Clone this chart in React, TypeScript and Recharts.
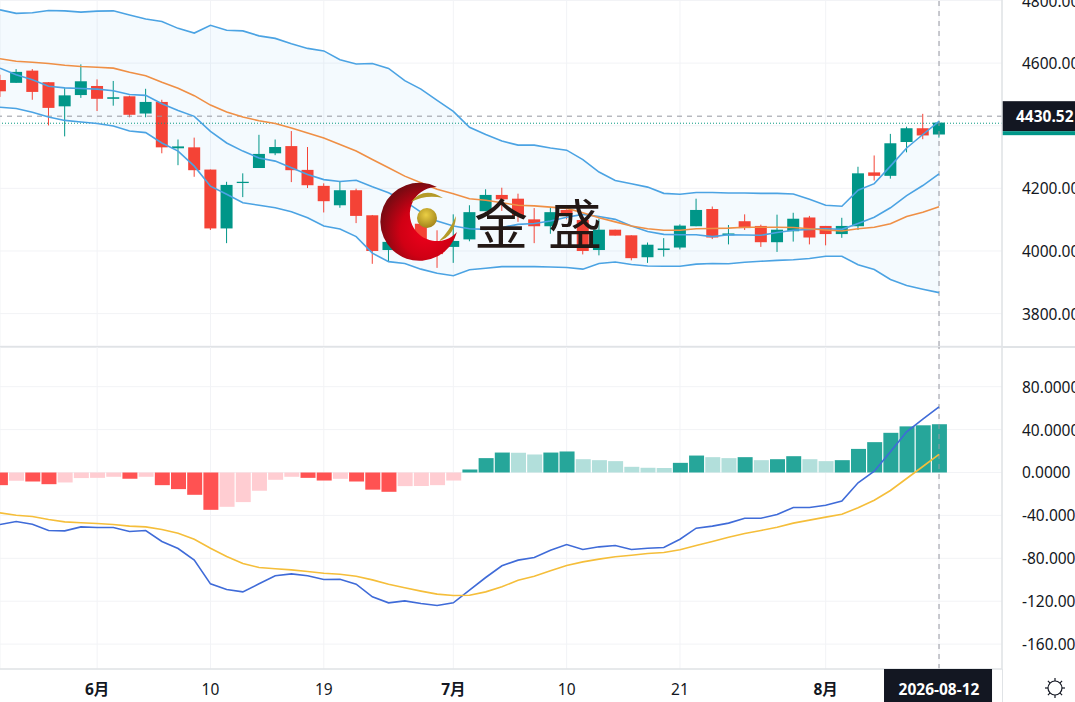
import { Area, Bar, CartesianGrid, Cell, ComposedChart, Line, ReferenceLine, XAxis, YAxis } from 'recharts';

const openPrices = [4546, 4537, 4576, 4539, 4462, 4498, 4527, 4486, 4494, 4439, 4476, 4328, 4331, 4260, 4072, 4217, 4265, 4312, 4335, 4259, 4208, 4146, 4194, 4114, 4003, 4027, 4087, 4027, 4013, 4037, 4127, 4179, 4167, 4101, 4079, 4131, 4099, 4003, 4068, 4050, 3980, 4003, 4011, 4079, 4134, 4050, 4095, 4080, 4028, 4063, 4107, 4080, 4054, 4079, 4251, 4240, 4348, 4392, 4372];
const closePrices = [4510, 4572, 4508, 4457, 4497, 4542, 4486, 4491, 4435, 4476, 4331, 4334, 4258, 4072, 4211, 4221, 4310, 4332, 4258, 4210, 4159, 4194, 4112, 4000, 4029, 4090, 4027, 3990, 4032, 4124, 4179, 4165, 4112, 4079, 4124, 4119, 4000, 4068, 4049, 3977, 4020, 4008, 4081, 4131, 4043, 4056, 4073, 4028, 4068, 4103, 4043, 4054, 4080, 4248, 4240, 4344, 4392, 4369, 4410];
const highPrices = [4563, 4581, 4581, 4539, 4520, 4596, 4548, 4543, 4496, 4518, 4483, 4356, 4362, 4260, 4221, 4248, 4371, 4356, 4383, 4332, 4216, 4222, 4199, 4115, 4059, 4112, 4101, 4066, 4117, 4146, 4197, 4202, 4183, 4137, 4138, 4133, 4099, 4103, 4068, 4050, 4027, 4041, 4085, 4167, 4142, 4083, 4117, 4084, 4116, 4122, 4112, 4080, 4106, 4269, 4305, 4374, 4397, 4438, 4416];
const lowPrices = [4492, 4537, 4483, 4401, 4366, 4489, 4447, 4464, 4427, 4427, 4312, 4274, 4237, 4067, 4025, 4172, 4265, 4306, 4220, 4201, 4123, 4138, 4089, 3959, 3965, 4011, 4011, 3946, 3962, 4031, 4127, 4128, 4093, 4025, 4055, 4101, 3989, 3986, 4049, 3970, 3962, 3982, 4005, 4079, 4038, 4021, 4067, 4013, 3997, 4030, 4021, 4018, 4042, 4067, 4225, 4231, 4315, 4357, 4362];

const upperBand = [4770, 4759, 4761, 4768, 4767, 4763, 4766, 4767, 4754, 4741, 4733, 4711, 4696, 4721, 4705, 4703, 4687, 4679, 4662, 4647, 4639, 4611, 4597, 4599, 4583, 4544, 4517, 4481, 4446, 4395, 4372, 4351, 4338, 4338, 4329, 4322, 4292, 4252, 4225, 4215, 4204, 4184, 4181, 4187, 4187, 4185, 4185, 4184, 4184, 4182, 4165, 4146, 4143, 4194, 4215, 4271, 4329, 4372, 4414];
const midBand = [4584, 4563, 4547, 4526, 4521, 4519, 4517, 4512, 4500, 4497, 4470, 4449, 4430, 4382, 4345, 4319, 4297, 4287, 4266, 4244, 4228, 4222, 4226, 4205, 4186, 4159, 4124, 4096, 4080, 4071, 4069, 4075, 4085, 4088, 4096, 4108, 4117, 4110, 4101, 4080, 4062, 4053, 4052, 4052, 4046, 4052, 4051, 4050, 4059, 4066, 4069, 4071, 4069, 4088, 4108, 4138, 4177, 4209, 4246];
const lowerBand = [4459, 4455, 4443, 4428, 4417, 4412, 4407, 4399, 4383, 4378, 4345, 4319, 4271, 4207, 4181, 4154, 4146, 4138, 4125, 4106, 4080, 4070, 4046, 3993, 3966, 3960, 3942, 3929, 3921, 3940, 3945, 3950, 3950, 3950, 3949, 3947, 3942, 3960, 3965, 3957, 3952, 3951, 3951, 3958, 3960, 3959, 3964, 3967, 3970, 3972, 3976, 3983, 3983, 3956, 3941, 3909, 3890, 3878, 3867];
const maLine = [4614, 4606, 4603, 4599, 4593, 4589, 4587, 4584, 4571, 4560, 4539, 4520, 4496, 4466, 4444, 4428, 4416, 4407, 4393, 4377, 4361, 4340, 4319, 4292, 4266, 4239, 4218, 4197, 4183, 4167, 4162, 4154, 4146, 4144, 4140, 4136, 4122, 4106, 4093, 4080, 4071, 4066, 4066, 4071, 4072, 4073, 4076, 4076, 4076, 4075, 4071, 4067, 4064, 4071, 4076, 4087, 4110, 4124, 4141];

const difLine = [-48.5, -45.7, -48.2, -54.1, -54.4, -50.7, -51.3, -51.3, -55, -54.1, -64.3, -70.9, -81.7, -103.8, -109.1, -111.3, -103.8, -96.3, -94.5, -96.3, -99.8, -99.5, -104.1, -115.9, -121.5, -119.7, -122.1, -124, -121.5, -109.7, -97.9, -87, -81.7, -79.3, -72.4, -67.1, -71.8, -69.3, -68.1, -71.8, -70.6, -69.9, -62.2, -51.9, -50, -47.2, -42.6, -42.6, -39.2, -32.6, -32.6, -30.5, -26.7, -9.6, 1.2, 19.3, 37.9, 49.7, 61.2];
const deaLine = [-37.6, -39.8, -41, -43.8, -46, -46.9, -47.6, -48.5, -50, -50.7, -53.1, -56.6, -62.2, -70.6, -78.3, -84.8, -88.6, -89.8, -90.8, -92.3, -93.9, -94.8, -96.7, -100.1, -104.1, -107.5, -110.6, -113.4, -114.7, -114.4, -111.3, -106.6, -100.4, -96.7, -91.7, -86.7, -83.3, -80.8, -78.6, -77.1, -75.5, -74.6, -72.1, -68.1, -64.3, -60.3, -56.9, -54.1, -51, -47.2, -44.4, -41.6, -38.9, -32.9, -25.8, -16.8, -5.6, 5.6, 16.8];
const histogram = [-11.8, -7.8, -8.4, -10.9, -9.3, -5.2, -5, -4, -5.9, -4, -11.8, -15.5, -20.8, -34.8, -32, -27.6, -17, -6.8, -4, -5, -7.5, -5.9, -8.4, -16, -18, -12.7, -12.6, -11.8, -7.5, 2.8, 13.4, 18.6, 18.4, 16.8, 18.6, 19.6, 12.4, 11.5, 10.6, 5.3, 4.4, 4.2, 9, 15.8, 14.3, 13.4, 14.3, 11.5, 12.4, 15.2, 12.4, 10.6, 11.5, 22, 28.3, 37, 43, 44, 45];

const priceTicks = [4800, 4600, 4400, 4200, 4000, 3800];
const macdTicks = [80, 40, 0, -40, -80, -120, -160];
const dateTicks = [6, 13, 20, 28, 35, 42, 51, 58];
const dateLabels = ['6月', '10', '19', '7月', '10', '21', '8月', '2026-08-12'];

const lastPrice = 4430.52;
const bidPrice = 4408;

const priceRows = openPrices.map((open, i) => ({
  idx: i,
  open,
  close: closePrices[i],
  range: [lowPrices[i], highPrices[i]],
  band: [lowerBand[i], upperBand[i]],
  upper: upperBand[i],
  mid: midBand[i],
  lower: lowerBand[i],
  ma: maLine[i],
}));

const macdRows = histogram.map((hist, i) => ({ idx: i, hist, dif: difLine[i], dea: deaLine[i] }));

const TEXT = '#131722';
const BORDER = '#E0E3E6';
const GRID = '#F2F3F6';
const FONT = '"Noto Sans", "Noto Sans CJK SC", sans-serif';
const X_MAX = 61.89;

const histColor = (i: number) => {
  const v = histogram[i];
  const rising = i === 0 ? false : v > histogram[i - 1];
  if (v < 0) return rising ? '#FFCDD2' : '#FF5252';
  return rising ? '#26A69A' : '#B2DFDB';
};

const Candle = (props: any) => {
  const { x, y, width, height, payload } = props;
  const [low, high] = payload.range;
  const perUnit = height / (high - low);
  const up = payload.close >= payload.open;
  const color = up ? '#009688' : '#F44336';
  const top = y + (high - Math.max(payload.open, payload.close)) * perUnit;
  const bottom = y + (high - Math.min(payload.open, payload.close)) * perUnit;
  const cx = x + width / 2;
  return (
    <g>
      <line x1={cx} x2={cx} y1={y} y2={y + height} stroke={color} strokeWidth={1} />
      <rect x={x} y={top} width={width} height={Math.max(bottom - top, 1)} fill={color} />
    </g>
  );
};

const PriceTick = (props: any) => {
  const { x, y, payload } = props;
  // the 4400 label sits behind the last price box
  if (payload.value === 4400) return null;
  return (
    <text x={x} y={y} dy={6} fontSize={15.5} fontFamily={FONT} fill={TEXT}>
      {payload.value.toFixed(2)}
    </text>
  );
};

const MacdTick = (props: any) => {
  const { x, y, payload } = props;
  return (
    <text x={x} y={y} dy={6} fontSize={15.5} fontFamily={FONT} fill={TEXT}>
      {payload.value.toFixed(4)}
    </text>
  );
};

const DateTick = (props: any) => {
  const { x, y, payload } = props;
  const label = dateLabels[dateTicks.indexOf(payload.value)];
  if (payload.value === 58) {
    return (
      <g>
        <rect x={x - 55} y={y - 8} width={108} height={33} fill={TEXT} />
        <text x={x} y={y + 18} textAnchor="middle" fontSize={15.5} fontWeight={700} fontFamily={FONT} fill="#fff">
          {label}
        </text>
      </g>
    );
  }
  return (
    <text x={x} y={y + 18} textAnchor="middle" fontSize={15.5} fontWeight={label.includes('月') ? 700 : 400} fontFamily={FONT} fill={TEXT}>
      {label}
    </text>
  );
};

const LastPriceBox = (props: any) => {
  const { viewBox } = props;
  const left = viewBox.x + viewBox.width;
  return (
    <g>
      <rect x={left} y={viewBox.y - 15} width={73} height={30} fill={TEXT} />
      <rect x={left} y={viewBox.y + 15} width={73} height={4} fill="#009688" />
      <text x={left + 14} y={viewBox.y + 5.5} fontSize={15.5} fontWeight={700} fontFamily={FONT} fill="#fff">
        {lastPrice.toFixed(2)}
      </text>
    </g>
  );
};

const Watermark = () => (
  <svg width={1075} height={702} style={{ position: 'absolute', left: 0, top: 0, pointerEvents: 'none' }}>
    <defs>
      <radialGradient id="moon" cx="0.6" cy="0.62" r="0.62">
        <stop offset="0%" stopColor="#F0001C" />
        <stop offset="55%" stopColor="#D00014" />
        <stop offset="100%" stopColor="#7A0A12" />
      </radialGradient>
      <radialGradient id="ball" cx="0.45" cy="0.35" r="0.7">
        <stop offset="0%" stopColor="#EBCF45" />
        <stop offset="100%" stopColor="#9C7E16" />
      </radialGradient>
    </defs>
    <path d="M437,187 A39,39 0 1 0 457,232 A27,27 0 1 1 437,187 Z" fill="url(#moon)" />
    <circle cx={427} cy={218} r={10} fill="url(#ball)" />
    <path d="M411,202 Q424,186 443,198 Q426,194 411,202 Z" fill="#B49A28" />
    <path d="M439,241 Q455,236 456,216 Q449,232 439,241 Z" fill="#B49A28" />
    <text x={501} y={245} textAnchor="middle" fontSize={54} fontFamily='"Noto Sans CJK SC"' fill="#231815">金</text>
    <text x={575} y={245} textAnchor="middle" fontSize={54} fontFamily='"Noto Sans CJK SC"' fill="#231815">盛</text>
  </svg>
);

const SunIcon = () => (
  <svg width={24} height={24} viewBox="0 0 24 24" style={{ position: 'absolute', left: 1043, top: 676 }}>
    <circle cx={12} cy={12} r={7} fill="none" stroke={TEXT} strokeWidth={1.2} />
    {[0, 45, 90, 135, 180, 225, 270, 315].map((a) => (
      <line key={a} x1={12} y1={2} x2={12} y2={5} stroke={TEXT} strokeWidth={1.2} transform={`rotate(${a} 12 12)`} />
    ))}
  </svg>
);

export default function App() {
  return (
    <div style={{ position: 'absolute', left: 0, top: 0, width: 1075, height: 702, overflow: 'hidden', background: '#fff' }}>
      <div style={{ position: 'absolute', left: 0, top: 0 }}>
        <ComposedChart width={1075} height={346} data={priceRows} margin={{ top: 0, right: 0, bottom: 0, left: 0 }}>
          <CartesianGrid stroke={GRID} strokeWidth={1} />
          <XAxis type="number" dataKey="idx" domain={[0, X_MAX]} ticks={dateTicks} allowDataOverflow hide />
          <YAxis
            orientation="right"
            width={73}
            domain={[3696.5, 4801.6]}
            ticks={priceTicks}
            interval={0}
            allowDataOverflow
            tickLine={false}
            axisLine={{ stroke: BORDER, strokeWidth: 1.5 }}
            tickMargin={14}
            tick={<PriceTick />}
          />
          <Area dataKey="band" stroke="none" fill="#2196F3" fillOpacity={0.05} activeDot={false} isAnimationActive={false} />
          <ReferenceLine y={bidPrice} stroke="#089981" strokeDasharray="1 2" />
          <ReferenceLine y={lastPrice} stroke="#9598A1" strokeDasharray="5 5" label={<LastPriceBox />} />
          <ReferenceLine x={58} stroke="#9598A1" strokeDasharray="5 5" />
          <Line dataKey="upper" stroke="#4BA3E3" strokeWidth={1.6} dot={false} activeDot={false} isAnimationActive={false} />
          <Line dataKey="mid" stroke="#4BA3E3" strokeWidth={1.6} dot={false} activeDot={false} isAnimationActive={false} />
          <Line dataKey="lower" stroke="#4BA3E3" strokeWidth={1.6} dot={false} activeDot={false} isAnimationActive={false} />
          <Line dataKey="ma" stroke="#EF8F45" strokeWidth={1.6} dot={false} activeDot={false} isAnimationActive={false} />
          <Bar dataKey="range" barSize={12} shape={<Candle />} isAnimationActive={false} />
        </ComposedChart>
      </div>
      <div style={{ position: 'absolute', left: 0, top: 346, width: 1075, height: 2, background: BORDER }} />
      <div style={{ position: 'absolute', left: 0, top: 347 }}>
        <ComposedChart width={1075} height={355} data={macdRows} margin={{ top: 0, right: 0, bottom: 0, left: 0 }}>
          <CartesianGrid stroke={GRID} strokeWidth={1} />
          <XAxis
            type="number"
            dataKey="idx"
            domain={[0, X_MAX]}
            ticks={dateTicks}
            interval={0}
            allowDataOverflow
            height={33}
            tickLine={false}
            axisLine={{ stroke: BORDER, strokeWidth: 1.5 }}
            tick={<DateTick />}
          />
          <YAxis
            orientation="right"
            width={73}
            domain={[-183.2, 117]}
            ticks={macdTicks}
            interval={0}
            allowDataOverflow
            tickLine={false}
            axisLine={{ stroke: BORDER, strokeWidth: 1.5 }}
            tickMargin={14}
            tick={<MacdTick />}
          />
          <ReferenceLine x={58} stroke="#9598A1" strokeDasharray="5 5" />
          <Bar dataKey="hist" barSize={15} isAnimationActive={false}>
            {macdRows.map((row) => (
              <Cell key={row.idx} fill={histColor(row.idx)} />
            ))}
          </Bar>
          <Line dataKey="dif" stroke="#3F6BD8" strokeWidth={1.6} dot={false} activeDot={false} isAnimationActive={false} />
          <Line dataKey="dea" stroke="#F5BE3A" strokeWidth={1.6} dot={false} activeDot={false} isAnimationActive={false} />
        </ComposedChart>
      </div>
      <div style={{ position: 'absolute', left: 1002, top: 669, width: 1, height: 33, background: BORDER }} />
      <SunIcon />
      <Watermark />
    </div>
  );
}
